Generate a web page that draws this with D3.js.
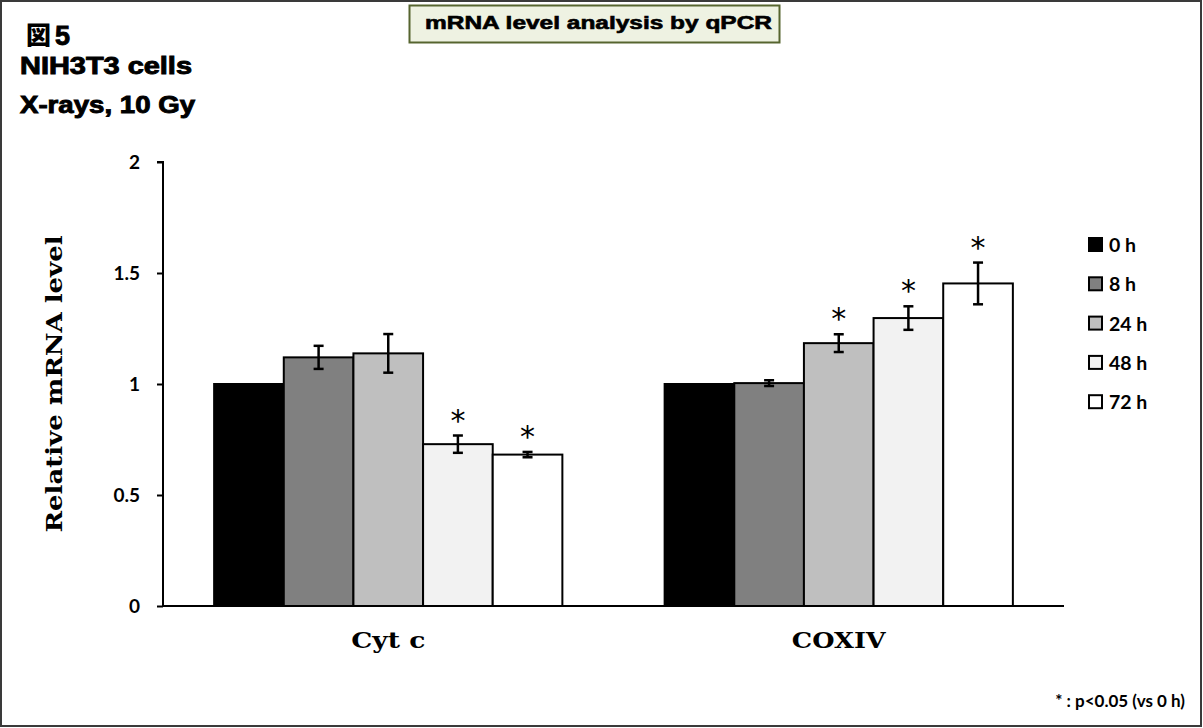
<!DOCTYPE html>
<html>
<head>
<meta charset="utf-8">
<script src="https://cdn.jsdelivr.net/npm/d3@7"></script>
<style>
  html, body { margin: 0; padding: 0; background: #fff; }
  svg { display: block; }
</style>
</head>
<body>
<svg id="chart" width="1203" height="728"></svg>
<script>
// Genes measured and the time points after irradiation
const genes = ["Cyt c", "COXIV"];
const timePoints = ["0 h", "8 h", "24 h", "48 h", "72 h"];
const seriesFill = ["#000000", "#808080", "#bfbfbf", "#f2f2f2", "#ffffff"];

// Relative mRNA level per gene, one entry per time point
const meanCytC  = [1.0, 1.12, 1.138, 0.729, 0.682];
const meanCOXIV = [1.0, 1.004, 1.184, 1.297, 1.453];
// Error (± one SD) for each bar; 0 h is the reference and has none
const errCytC  = [0, 0.052, 0.087, 0.039, 0.012];
const errCOXIV = [0, 0.013, 0.040, 0.053, 0.094];
// Significance flags (p < 0.05 vs 0 h)
const sigCytC  = [false, false, false, true, true];
const sigCOXIV = [false, false, true, true, true];

const yTicks = [0, 0.5, 1, 1.5, 2];

const rows = [
  { gene: genes[0], mean: meanCytC, err: errCytC, sig: sigCytC },
  { gene: genes[1], mean: meanCOXIV, err: errCOXIV, sig: sigCOXIV }
];

const svg = d3.select("#chart");

// page frame
svg.append("rect")
  .attr("x", 1).attr("y", 1).attr("width", 1200).attr("height", 725)
  .attr("fill", "#fff").attr("stroke", "#3a3a3a").attr("stroke-width", 2);

// header texts (heavy gothic)
const sansBold = "'Liberation Sans', Arial, sans-serif";
function heavy(sel) {
  return sel.attr("font-family", sansBold).attr("font-weight", 700)
    .attr("stroke", "#000").attr("stroke-width", 0.9).attr("fill", "#000");
}
svg.append("text").attr("x", 26).attr("y", 44)
  .attr("font-family", "'Noto Sans CJK JP', sans-serif").attr("font-weight", 900)
  .attr("font-size", 25).text("図");
heavy(svg.append("text")).attr("x", 55).attr("y", 45)
  .attr("font-size", 27).text("5");
heavy(svg.append("text")).attr("x", 20).attr("y", 74)
  .attr("font-size", 23).attr("textLength", 172).attr("lengthAdjust", "spacingAndGlyphs")
  .text("NIH3T3 cells");
heavy(svg.append("text")).attr("x", 20).attr("y", 113)
  .attr("font-size", 23).attr("textLength", 175).attr("lengthAdjust", "spacingAndGlyphs")
  .text("X-rays, 10 Gy");

// title box
svg.append("rect")
  .attr("x", 409.5).attr("y", 5.5).attr("width", 370).attr("height", 37)
  .attr("fill", "#eef2e2").attr("stroke", "#56652f").attr("stroke-width", 2);
heavy(svg.append("text")).attr("x", 425).attr("y", 29)
  .attr("stroke-width", 0.6)
  .attr("font-size", 18).attr("textLength", 347).attr("lengthAdjust", "spacingAndGlyphs")
  .text("mRNA level analysis  by qPCR");

// plot geometry
const plot = { left: 163, right: 1064, top: 162, bottom: 606 };

const y = d3.scaleLinear().domain([0, 2]).range([plot.bottom, plot.top]);
const x0 = d3.scaleBand().domain(genes).range([plot.left, plot.right]).paddingInner(0.227).paddingOuter(0.1135);
const x1 = d3.scaleBand().domain(timePoints).range([0, x0.bandwidth()]).padding(0);

const labelFont = "Lato, 'Open Sans', sans-serif";
const serifBold = "'DejaVu Serif', serif";

// y axis
const yAxis = d3.axisLeft(y).tickValues(yTicks).tickSize(6).tickFormat(d3.format("~g"));
const gy = svg.append("g").attr("transform", `translate(${plot.left},0)`).call(yAxis);
gy.select(".domain").attr("stroke", "#000").attr("stroke-width", 2)
  .attr("d", `M-6,${plot.top}H0V${plot.bottom}`);
gy.selectAll(".tick line").attr("stroke", "#000").attr("stroke-width", 2);
gy.selectAll(".tick text")
  .attr("x", -23).attr("dy", "0.36em")
  .attr("font-family", labelFont).attr("font-weight", 700)
  .attr("font-size", 19).attr("fill", "#000");

// y axis title
svg.append("text")
  .attr("transform", `translate(62,${(plot.top + plot.bottom) / 2}) rotate(-90)`)
  .attr("text-anchor", "middle")
  .attr("font-family", serifBold).attr("font-weight", 700)
  .attr("font-size", 23).attr("textLength", 297).attr("lengthAdjust", "spacingAndGlyphs")
  .text("Relative mRNA level");

// bars
const groups = svg.append("g").selectAll("g")
  .data(rows).join("g")
  .attr("transform", d => `translate(${x0(d.gene)},0)`);

const barData = r => timePoints.map((t, i) => ({ t, i, v: r.mean[i], e: r.err[i], s: r.sig[i] }));

groups.selectAll("rect")
  .data(barData).join("rect")
  .attr("x", d => x1(d.t))
  .attr("y", d => y(d.v))
  .attr("width", x1.bandwidth())
  .attr("height", d => y(0) - y(d.v))
  .attr("fill", d => seriesFill[d.i])
  .attr("stroke", "#000").attr("stroke-width", 2);

// error bars
const eb = groups.selectAll("g.err")
  .data(r => barData(r).filter(d => d.e > 0)).join("g").attr("class", "err")
  .attr("stroke", "#000").attr("stroke-width", 2.5);
const cx = d => x1(d.t) + x1.bandwidth() / 2;
eb.append("line")
  .attr("x1", cx).attr("x2", cx)
  .attr("y1", d => y(d.v + d.e)).attr("y2", d => y(d.v - d.e));
eb.append("line")
  .attr("x1", d => cx(d) - 5).attr("x2", d => cx(d) + 5)
  .attr("y1", d => y(d.v + d.e)).attr("y2", d => y(d.v + d.e));
eb.append("line")
  .attr("x1", d => cx(d) - 5).attr("x2", d => cx(d) + 5)
  .attr("y1", d => y(d.v - d.e)).attr("y2", d => y(d.v - d.e));

// significance marks
groups.selectAll("text.sig")
  .data(r => barData(r).filter(d => d.s)).join("text").attr("class", "sig")
  .attr("x", cx)
  .attr("y", d => y(d.v + d.e) - 5)
  .attr("text-anchor", "middle")
  .attr("font-family", "'DejaVu Sans', sans-serif").attr("font-weight", 400)
  .attr("font-size", 30)
  .text("*");

// x axis baseline and gene labels
svg.append("line")
  .attr("x1", plot.left).attr("x2", plot.right)
  .attr("y1", plot.bottom).attr("y2", plot.bottom)
  .attr("stroke", "#000").attr("stroke-width", 2);
svg.append("g").selectAll("text")
  .data(genes).join("text")
  .attr("x", d => x0(d) + x0.bandwidth() / 2)
  .attr("y", 648)
  .attr("text-anchor", "middle")
  .attr("font-family", serifBold).attr("font-weight", 700)
  .attr("font-size", 22)
  .attr("textLength", (d, i) => [74, 94][i]).attr("lengthAdjust", "spacingAndGlyphs")
  .text(d => d);

// legend
const legend = svg.append("g").selectAll("g")
  .data(timePoints).join("g")
  .attr("transform", (d, i) => `translate(1089,${245 + i * 39.3})`);
legend.append("rect")
  .attr("x", 0).attr("y", -7).attr("width", 13).attr("height", 13)
  .attr("fill", (d, i) => seriesFill[i]).attr("stroke", "#000").attr("stroke-width", 2);
legend.append("text")
  .attr("x", 20).attr("dy", "0.36em")
  .attr("font-family", labelFont).attr("font-weight", 700).attr("font-size", 19.5)
  .text(d => d);

// footnote
svg.append("text")
  .attr("x", 1185).attr("y", 707)
  .attr("text-anchor", "end")
  .attr("font-family", labelFont).attr("font-weight", 700).attr("font-size", 17)
  .text("* : p<0.05 (vs 0 h)");
</script>
</body>
</html>
